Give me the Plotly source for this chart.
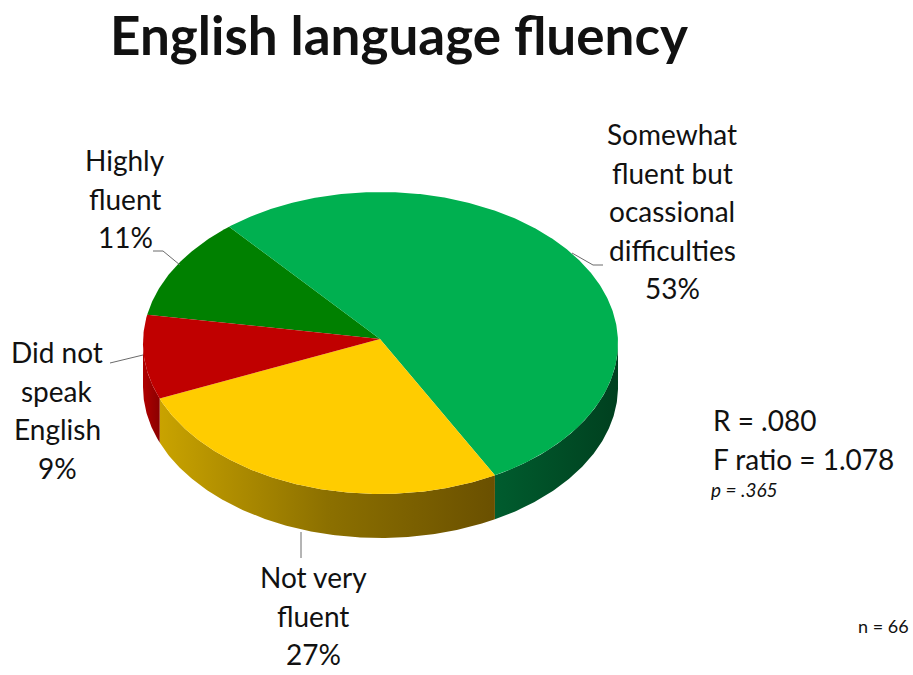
import numpy as np
import plotly.graph_objects as go

# ---- data -------------------------------------------------------------
categories = ["Highly fluent",
              "Somewhat fluent but ocassional difficulties",
              "Not very fluent",
              "Did not speak English"]
shares = [11, 53, 27, 9]
label_lines = [["Highly", "fluent"],
               ["Somewhat", "fluent but", "ocassional", "difficulties"],
               ["Not very", "fluent"],
               ["Did not", "speak", "English"]]
stats_lines = ["R = .080", "F ratio = 1.078"]
p_text = "p = .365"
n_text = "n = 66"
title_text = "English language fluency"

# ---- styling / geometry ---------------------------------------------
W, H = 913, 675
CX, CY = 380.5, 343.0      # centre of the top ellipse
RX, RY = 237.5, 151.0      # radii of the top ellipse
APEX = (380.0, 339.0)      # point where the slices meet
DEPTH = 44.0               # thickness of the disc
START = 280.8              # clockwise from 12 o'clock, degrees

top_colors = ["#008000", "#00B050", "#FFCC00", "#C00000"]
side_scales = [
    [[0, "#005200"], [1, "#003A00"]],
    [[0, "#005C2E"], [1, "#00401F"]],
    [[0, "#C9A300"], [0.5, "#8C7000"], [1, "#6A5000"]],
    [[0, "#B00000"], [1, "#8A0000"]],
]
FONT = "Lato"
TXT = "#111111"

# label blocks: centre x, first baseline y, leader polyline
label_pos = [
    dict(x=125, y=173, leader=[(153, 251), (163, 251), (180, 265)]),
    dict(x=672, y=147, leader=[(572, 253), (593, 265), (603, 265)]),
    dict(x=313, y=590, leader=[(301, 532), (301, 558)]),
    dict(x=57, y=365, leader=[(110, 363), (143, 355)]),
]
LINE_STEP = 38.5
LABEL_SIZE = 28


def ell(theta_deg, dy=0.0):
    t = np.radians(theta_deg)
    return CX + RX * np.sin(t), CY - RY * np.cos(t) + dy


fig = go.Figure()

# slice angle intervals from the shares
total = float(sum(shares))
bounds = []
a = START
for v in shares:
    span = 360.0 * v / total
    bounds.append((a, a + span))
    a += span

# visible front side (between 90 and 270 degrees, plus wraps)
for i, (t0, t1) in enumerate(bounds):
    for k in (-1, 0, 1):
        lo = max(t0, 90 + 360 * k)
        hi = min(t1, 270 + 360 * k)
        if hi <= lo:
            continue
        th = np.linspace(lo, hi, max(3, int((hi - lo) * 2)))
        xt, yt = ell(th)
        xb, yb = ell(th[::-1], DEPTH)
        xs = np.concatenate([xt, xb, xt[:1]])
        ys = np.concatenate([yt, yb, yt[:1]])
        fig.add_trace(go.Scatter(
            x=xs, y=ys, mode="lines", fill="toself",
            line=dict(width=0, color=side_scales[i][0][1]),
            fillgradient=dict(type="horizontal", colorscale=side_scales[i]),
            hoverinfo="skip", showlegend=False))

# top faces
for i, (t0, t1) in enumerate(bounds):
    th = np.linspace(t0, t1, max(3, int((t1 - t0) * 2)))
    xa, ya = ell(th)
    xs = np.concatenate([[APEX[0]], xa, [APEX[0]]])
    ys = np.concatenate([[APEX[1]], ya, [APEX[1]]])
    fig.add_trace(go.Scatter(
        x=xs, y=ys, mode="lines", fill="toself",
        fillcolor=top_colors[i], line=dict(width=0, color=top_colors[i]),
        name=categories[i], hoverinfo="name", showlegend=False))

# leader lines
for lp in label_pos:
    px, py = zip(*lp["leader"])
    fig.add_trace(go.Scatter(x=px, y=py, mode="lines",
                             line=dict(color="#6b6b6b", width=1),
                             hoverinfo="skip", showlegend=False))

annotations = []


def add_text(text, x, baseline, size, xanchor="center", bold=False, italic=False):
    if bold:
        text = f"<b>{text}</b>"
    if italic:
        text = f"<i>{text}</i>"
    annotations.append(dict(
        text=text, x=x, y=baseline + 0.22 * size, xref="x", yref="y",
        xanchor=xanchor, yanchor="bottom", showarrow=False,
        font=dict(family=FONT, size=size, color=TXT)))


for lines, v, lp in zip(label_lines, shares, label_pos):
    for j, ln in enumerate(lines + [f"{v}%"]):
        add_text(ln, lp["x"], lp["y"] + j * LINE_STEP, LABEL_SIZE)

add_text(stats_lines[0], 711, 433, LABEL_SIZE, xanchor="left")
add_text(stats_lines[1], 711, 472, LABEL_SIZE, xanchor="left")
add_text(p_text, 709, 499, 19, xanchor="left", italic=True)
add_text(n_text, 856, 635, 18, xanchor="left")
add_text(title_text, 399, 56, 53, bold=True)

fig.update_layout(
    width=W, height=H, margin=dict(l=0, r=0, t=0, b=0),
    paper_bgcolor="white", plot_bgcolor="white",
    xaxis=dict(range=[0, W], visible=False, fixedrange=True),
    yaxis=dict(range=[H, 0], visible=False, fixedrange=True),
    annotations=annotations,
)

fig.write_html("out.html")
